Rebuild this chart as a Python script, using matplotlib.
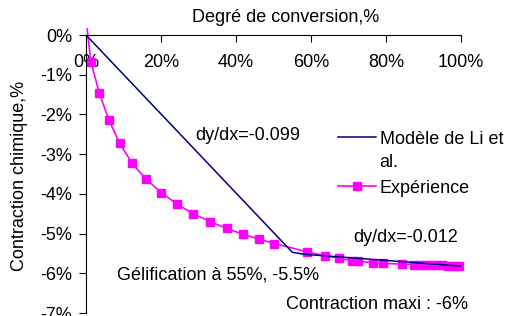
import matplotlib
matplotlib.use("Agg")
import matplotlib.pyplot as plt
from matplotlib.ticker import FuncFormatter, FixedLocator

plt.rcParams['font.family'] = ['Liberation Sans', 'DejaVu Sans']
plt.rcParams['axes.unicode_minus'] = False

# Data (percent)
model_x = [0, 55, 58, 100]
model_y = [0, -5.47, -5.52, -5.82]

exp_x = [0.3, 1.3, 3.5, 6.1, 9.0, 12.3, 16.0, 20.1, 24.3, 28.6, 33.1, 37.5, 41.9,
         46.2, 50.2, 59.0, 63.7, 67.5, 70.8, 72.6, 76.4, 79.3, 84.2, 87.5, 89.0,
         90.5, 92.0, 93.5, 95.0, 96.5, 98.0, 99.5]
exp_y = [0.15, -0.67, -1.45, -2.14, -2.73, -3.23, -3.63, -3.97, -4.26, -4.50, -4.70,
         -4.87, -5.02, -5.14, -5.25, -5.46, -5.56, -5.62, -5.68, -5.70, -5.73, -5.75,
         -5.77, -5.78, -5.79, -5.79, -5.80, -5.80, -5.80, -5.81, -5.81, -5.81]

x_ticks = [0, 20, 40, 60, 80, 100]
y_ticks = [0, -1, -2, -3, -4, -5, -6, -7]

labels = ["Modèle de Li et\nal.", "Expérience"]
annotations = [
    ("dy/dx=-0.099", 29.1, -2.52),
    ("dy/dx=-0.012", 71.2, -5.09),
    ("Gélification à 55%, -5.5%", 8.3, -6.05),
    ("Contraction maxi : -6%", 53.3, -6.78),
]

FS = 13
fig = plt.figure(figsize=(5.07, 3.16), dpi=100)
ax = fig.add_axes([86/507, 3/316, 375/507, 278/316])

ax.plot(model_x, model_y, color='#000080', lw=1.1, label=labels[0], zorder=3)
ax.plot(exp_x, exp_y, color='#FF00FF', lw=1.2, marker='s', markersize=6,
        markerfacecolor='#FF00FF', markeredgecolor='#FF00FF',
        markevery=list(range(1, len(exp_x))), label=labels[1], clip_on=False, zorder=2)

ax.set_xlim(0, 100)
ax.set_ylim(-7, 0)
ax.xaxis.set_major_locator(FixedLocator(x_ticks))
ax.yaxis.set_major_locator(FixedLocator(y_ticks))
ax.xaxis.set_major_formatter(FuncFormatter(lambda v, p: f"{v:.0f}%"))
ax.yaxis.set_major_formatter(FuncFormatter(lambda v, p: f"{v:.0f}%"))

for s in ['bottom', 'right']:
    ax.spines[s].set_visible(False)
for s in ['top', 'left']:
    ax.spines[s].set_linewidth(0.8)

ax.tick_params(axis='x', top=True, bottom=False, labeltop=True, labelbottom=False,
               direction='in', length=5, width=0.8, pad=-26, labelsize=FS)
ax.tick_params(axis='y', direction='out', length=5, width=0.8, pad=5, labelsize=FS)

ax.set_xlabel("Degré de conversion,%", fontsize=FS, va='center')
ax.xaxis.set_label_position('top')
ax.xaxis.set_label_coords((286-86)/375, (313-22)/278)
ax.set_ylabel("Contraction chimique,%", fontsize=FS, va='center')
ax.yaxis.set_label_coords((20-86)/375, (313-176)/278)

for txt, x, y in annotations:
    ax.text(x, y, txt, fontsize=FS, ha='left', va='center')

leg = ax.legend(loc='upper left', bbox_to_anchor=(338/507, 1-131/316),
                bbox_transform=fig.transFigure, frameon=False, fontsize=FS,
                handlelength=2.1, handletextpad=0.2, borderpad=0, borderaxespad=0,
                labelspacing=0.5)
for t in leg.get_texts():
    t.set_linespacing(1.45)
for col in leg._legend_handle_box.get_children():
    for hp in col.get_children():
        hp.align = "top"

fig.savefig("out.png", dpi=100)
